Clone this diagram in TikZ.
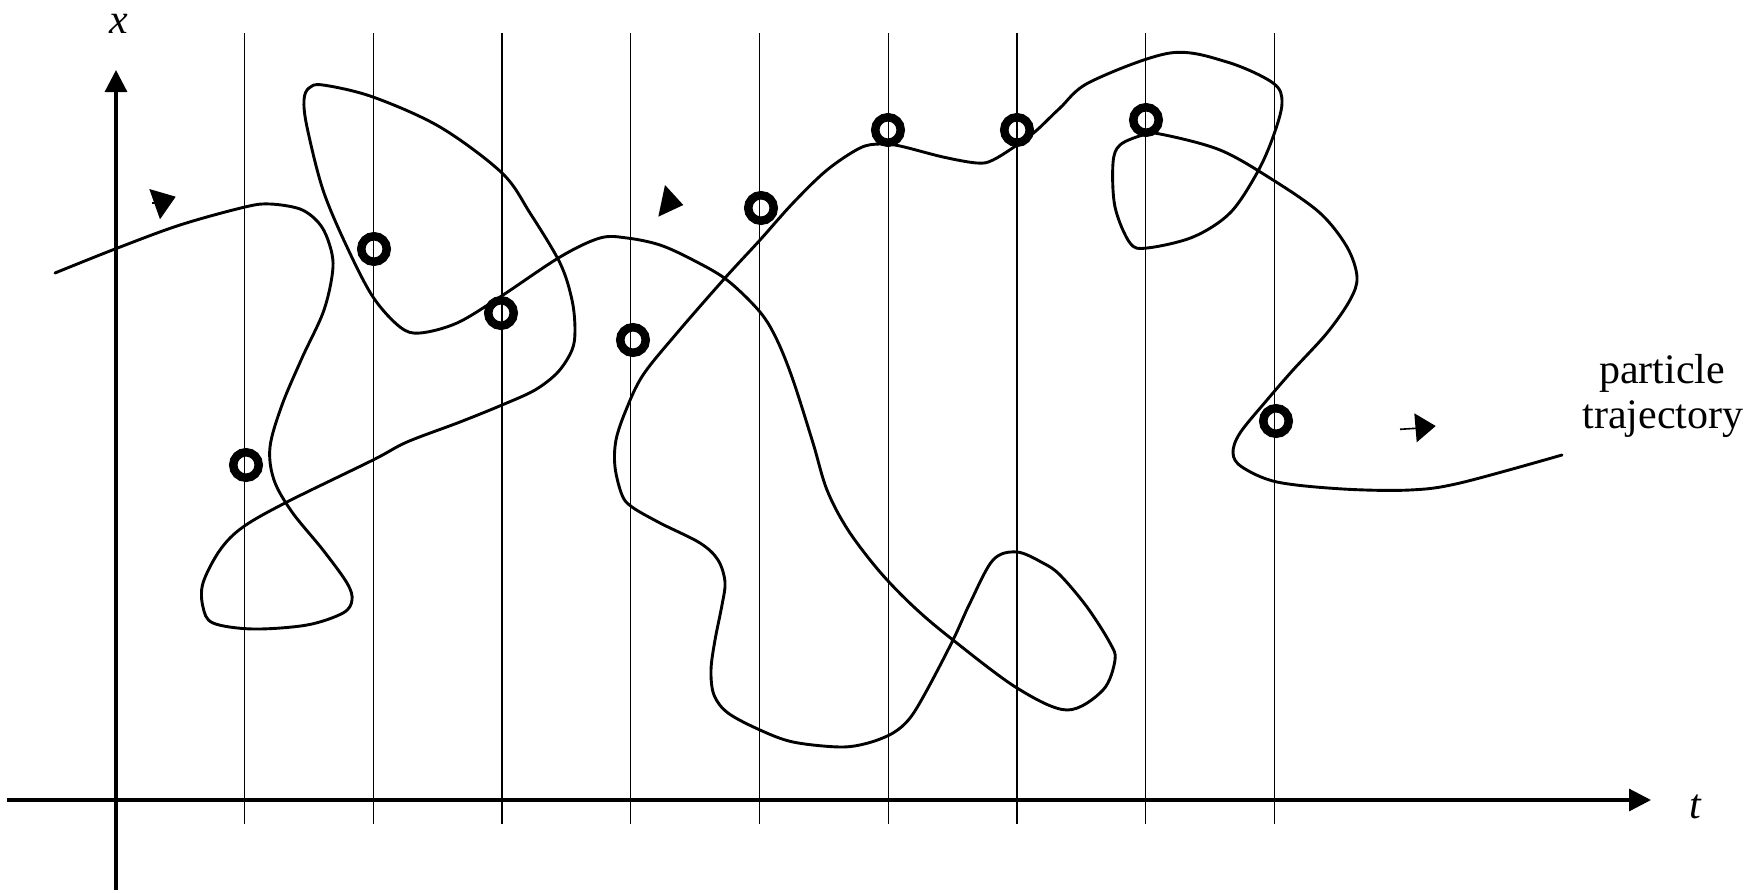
\documentclass[tikz,border=0pt]{standalone}
\usepackage{fontspec}
\setmainfont{Liberation Serif}
\usetikzlibrary{arrows.meta}
\begin{document}
\begin{tikzpicture}[x=1pt,y=-1pt,
  axis/.style={line width=3.2pt,-{Triangle[length=22pt,width=22pt]}},
  gridline/.style={line width=1.3pt},
  traj/.style={line width=2.9pt,line join=round,line cap=round},
  ring/.style={circle,draw,line width=8.5pt,minimum size=25.5pt,inner sep=0pt},
  dirtip/.style={fill=black},
  stub/.style={line width=1.6pt},
  lbl/.style={font=\fontsize{42}{45}\selectfont,anchor=base,inner sep=0pt}]
\useasboundingbox (0,0) rectangle (1764,892);
% grid lines
\foreach \i in {0,...,8}{
  \draw[gridline] ({244.7+128.7*\i},33) -- ({244.7+128.7*\i},824);
}
% axes
\coordinate (xbot) at (116,890);
\coordinate (xtop) at (116,70);
\coordinate (tleft) at (7,800);
\coordinate (tright) at (1651,800);
\draw[axis] (xbot) -- (xtop);
\draw[axis] (tleft) -- (tright);
\node[lbl,font=\fontsize{42}{45}\selectfont\itshape] (xl) at (119,33) {x};
\node[lbl,font=\fontsize{42}{45}\selectfont\itshape] (tl) at (1695,818) {t};
\node[lbl] (p1) at (1662,383) {particle};
\node[lbl] (p2) at (1663,428) {trajectory};
% trajectory
\draw[traj] plot[smooth,tension=0.55] coordinates {
(55,273) (115,249) (180,225) (245,207) (270,204) (300,209) (318,222) (328,240) (333,267) (324,310) (302,358) (282,405) (270,447) (274,480) (292,512) (323,550) (347,583) (352,600) (343,613) (307,625) (253,629) (213,623) (203,607) (203,583) (220,550) (243,527) (287,502) (373,460) (407,442) (460,422) (502,405) (535,390) (558,372) (572,350) (575,330) (572,300) (560,263) (530,213) (502,173) (440,127) (373,97) (323,85) (309,88) (304,100) (307,127) (323,190) (347,247) (373,297) (400,327) (420,333) (457,323) (500,297) (560,257) (600,238) (627,238) (660,245) (693,260) (727,280) (760,312) (777,340) (793,380) (813,443) (827,490) (848,530) (880,572) (915,608) (953,640) (1017,688) (1067,710) (1103,690) (1115,660) (1110,643) (1087,607) (1060,575) (1043,563) (1017,552) (993,560) (970,603) (953,640) (927,690) (910,718) (893,733) (868,743) (840,747) (793,742) (760,730) (728,713) (714,695) (711,670) (715,640) (722,605) (725,582) (718,560) (700,543) (660,523) (632,507) (622,495) (615,467) (616,440) (626,410) (643,375) (677,333) (725,278) (760,240) (793,203) (827,170) (860,148) (880,144) (900,146) (943,157) (977,163) (993,160) (1020,143) (1037,130) (1060,108) (1090,82) (1170,53) (1227,62) (1273,83) (1282,103) (1273,137) (1257,173) (1230,213) (1193,237) (1147,248) (1130,243) (1115,207) (1113,163) (1120,145) (1143,135) (1160,134) (1220,150) (1273,180) (1320,213) (1347,247) (1357,277) (1350,300) (1327,333) (1293,370) (1267,400) (1240,433) (1233,453) (1242,467) (1277,482) (1343,489) (1410,490) (1460,483) (1562,455)};
% direction arrowheads
\coordinate (s1) at (152,203);
\coordinate (e1) at (156,203);
\draw[stub] (s1) -- (e1);
\fill[dirtip] (149.3,189) -- (175.7,196.7) -- (160,219.3) -- cycle;
\fill[dirtip] (665,185) -- (683.3,205) -- (658.3,216.7) -- cycle;
\coordinate (s3) at (1400,429.3);
\coordinate (e3) at (1416,428.3);
\draw[stub] (s3) -- (e3);
\fill[dirtip] (1414.3,413.3) -- (1435.7,426) -- (1416.7,442.3) -- cycle;
% observation rings
\node[ring] (c1) at (246,465) {};
\node[ring] (c2) at (374,249) {};
\node[ring] (c3) at (501,313) {};
\node[ring] (c4) at (633,340) {};
\node[ring] (c5) at (761,208) {};
\node[ring] (c6) at (888,130) {};
\node[ring] (c7) at (1017,130) {};
\node[ring] (c8) at (1146,120) {};
\node[ring] (c9) at (1276,421) {};
\end{tikzpicture}
\end{document}
